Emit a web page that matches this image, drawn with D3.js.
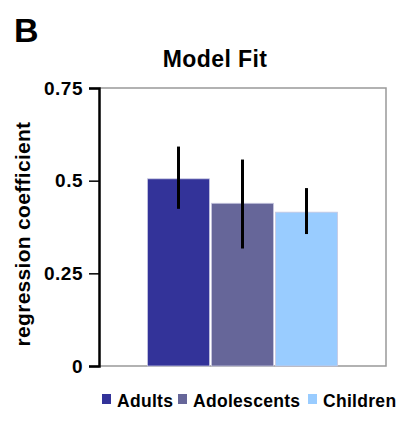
<!DOCTYPE html>
<html>
<head>
<meta charset="utf-8">
<script src="https://cdn.jsdelivr.net/npm/d3@7"></script>
<style>
  body { margin: 0; background: #fff; }
  text { font-family: "Liberation Sans", Arial, sans-serif; font-weight: bold; fill: #000; }
</style>
</head>
<body>
<div id="chart"></div>
<script>
// Model Fit - regression coefficients by age group
var groups = ['Adults', 'Adolescents', 'Children'];
var values = [0.505, 0.439, 0.415];
var errLow = [0.424, 0.317, 0.356];
var errHigh = [0.592, 0.557, 0.480];
var colors = ['#333399', '#666699', '#99CCFF'];
var yTicks = [0, 0.25, 0.5, 0.75];
var yTickLabels = ['0', '0.25', '0.5', '0.75'];

var width = 401,
    height = 424;

var plotLeft = 99, plotRight = 386,
    plotTop = 88, plotBottom = 366;

var svg = d3.select('#chart').append('svg')
    .attr('width', width)
    .attr('height', height);

var yScale = d3.scaleLinear()
    .domain([0, 0.75])
    .range([plotBottom, plotTop]);

var xScale = d3.scaleBand()
    .domain(groups)
    .range([plotLeft, plotRight])
    .paddingInner(0.031)
    .paddingOuter(0.758);

// panel letter and title
svg.append('text')
    .attr('x', 14).attr('y', 42)
    .style('font-size', '34px')
    .text('B');

svg.append('text')
    .attr('x', 215).attr('y', 67)
    .attr('text-anchor', 'middle')
    .style('font-size', '23px')
    .style('letter-spacing', '0.4px')
    .text('Model Fit');

// plot frame (gray top/right/bottom)
svg.append('path')
    .attr('d', 'M' + plotLeft + ',' + plotTop + 'H' + plotRight + 'V' + plotBottom + 'H' + plotLeft)
    .attr('fill', 'none')
    .attr('stroke', '#999')
    .attr('stroke-width', 1.5);

// bars
svg.selectAll('rect.bar').data(values)
    .enter().append('rect')
        .attr('class', 'bar')
        .attr('x', function(d, i) { return xScale(groups[i]); })
        .attr('width', xScale.bandwidth())
        .attr('y', function(d) { return yScale(d); })
        .attr('height', function(d) { return plotBottom - yScale(d); })
        .style('fill', function(d, i) { return colors[i]; })
        .style('stroke', '#c8c8e0')
        .style('stroke-width', 0.8);

// error bars
svg.selectAll('line.err').data(values)
    .enter().append('line')
        .attr('class', 'err')
        .attr('x1', function(d, i) { return xScale(groups[i]) + xScale.bandwidth() / 2; })
        .attr('x2', function(d, i) { return xScale(groups[i]) + xScale.bandwidth() / 2; })
        .attr('y1', function(d, i) { return yScale(errLow[i]); })
        .attr('y2', function(d, i) { return yScale(errHigh[i]); })
        .style('stroke', '#000')
        .style('stroke-width', 3);

// y axis
var yAxis = d3.axisLeft(yScale)
    .tickValues(yTicks)
    .tickFormat(function(d, i) { return yTickLabels[i]; })
    .tickSize(10)
    .tickPadding(6);

var gy = svg.append('g')
    .attr('transform', 'translate(' + plotLeft + ',0)')
    .call(yAxis);

gy.select('.domain').attr('stroke', '#000').attr('stroke-width', 2.5);
gy.selectAll('.tick line').attr('stroke', '#000').attr('stroke-width', 1.5);
gy.selectAll('.tick text')
    .attr('fill', '#000')
    .style('font-family', '"Liberation Sans", Arial, sans-serif')
    .style('font-weight', 'bold')
    .style('font-size', '19px')
    .style('letter-spacing', '0.5px');

svg.append('text')
    .attr('transform', 'translate(30,234) rotate(-90)')
    .attr('text-anchor', 'middle')
    .style('font-size', '21px')
    .style('letter-spacing', '0.3px')
    .text('regression coefficient');

// legend
var legendX = [102, 178, 308];
var legend = svg.selectAll('g.legend').data(groups)
    .enter().append('g')
        .attr('class', 'legend')
        .attr('transform', function(d, i) { return 'translate(' + legendX[i] + ',394)'; });

legend.append('rect')
    .attr('width', 9).attr('height', 10)
    .style('fill', function(d, i) { return colors[i]; });

legend.append('text')
    .attr('x', 15).attr('y', 12.5)
    .style('font-size', '17.5px')
    .style('letter-spacing', '0.3px')
    .text(function(d) { return d; });
</script>
</body>
</html>
